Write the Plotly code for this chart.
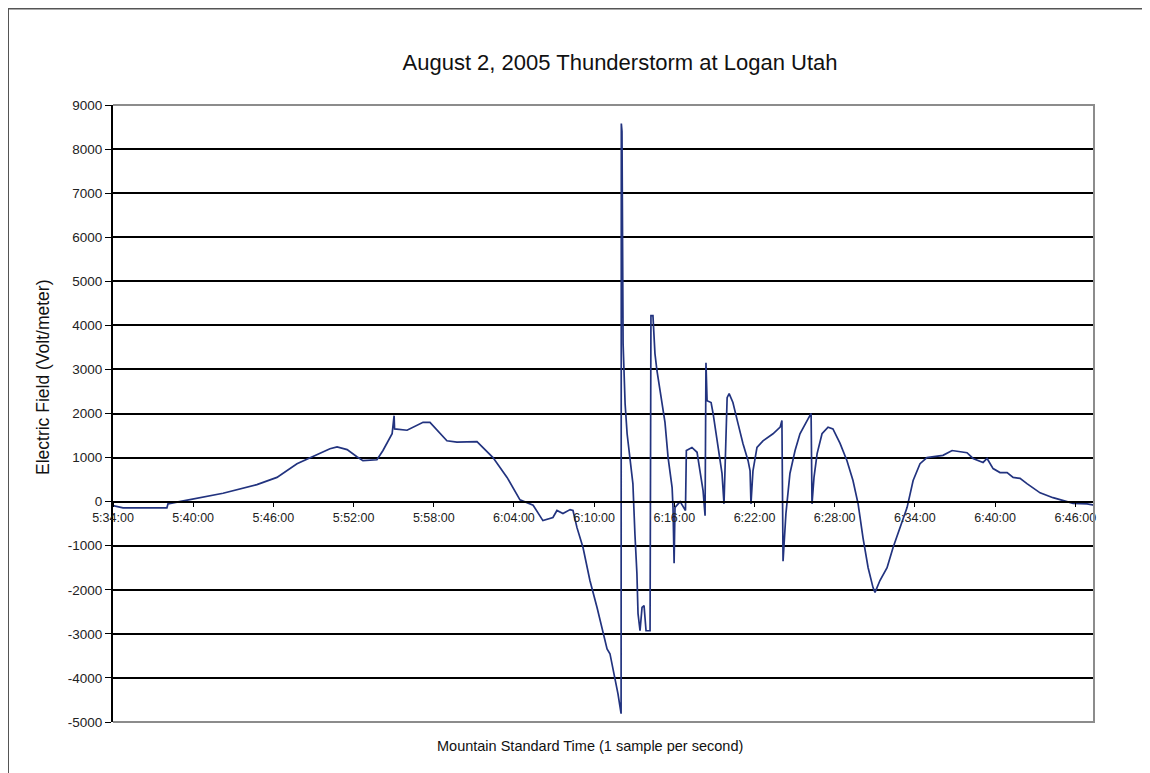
import plotly.graph_objects as go
import pandas as pd

# ---- data (Mountain Standard Time, Electric field V/m) ----
times = [
    "5:34:00", "5:34:45", "5:36:46", "5:38:02", "5:38:07", "5:39:46", "5:42:14", "5:44:46",
    "5:46:16", "5:47:46", "5:48:44", "5:50:14", "5:50:46", "5:51:31", "5:52:15", "5:52:42",
    "5:53:45", "5:54:12", "5:54:53", "5:55:02", "5:55:04", "5:56:00", "5:57:12", "5:57:43",
    "5:58:59", "5:59:44", "6:01:14", "6:02:26", "6:03:29", "6:04:27", "6:05:26", "6:06:10",
    "6:06:55", "6:07:13", "6:07:40", "6:08:12", "6:08:25", "6:08:43", "6:09:10", "6:09:41",
    "6:10:13", "6:10:40", "6:10:58", "6:11:11", "6:11:34", "6:11:47", "6:12:01", "6:12:02",
    "6:12:05", "6:12:10", "6:12:19", "6:12:28", "6:12:41", "6:12:54", "6:13:03", "6:13:12",
    "6:13:17", "6:13:26", "6:13:35", "6:13:44", "6:13:53", "6:14:11", "6:14:15", "6:14:24",
    "6:14:33", "6:14:42", "6:14:56", "6:15:09", "6:15:18", "6:15:32", "6:15:50", "6:15:54",
    "6:15:59", "6:16:03", "6:16:17", "6:16:26", "6:16:50", "6:16:54", "6:17:19", "6:17:42",
    "6:17:55", "6:18:09", "6:18:18", "6:18:22", "6:18:27", "6:18:45", "6:18:54", "6:19:12",
    "6:19:25", "6:19:34", "6:19:43", "6:19:57", "6:20:06", "6:20:23", "6:20:46", "6:21:08",
    "6:21:31", "6:21:40", "6:21:44", "6:21:53", "6:22:11", "6:22:38", "6:23:23", "6:23:55",
    "6:24:03", "6:24:08", "6:24:21", "6:24:39", "6:25:02", "6:25:24", "6:25:56", "6:26:14",
    "6:26:18", "6:26:27", "6:26:41", "6:27:03", "6:27:30", "6:27:52", "6:28:24", "6:28:55",
    "6:29:22", "6:29:45", "6:30:07", "6:30:30", "6:30:52", "6:31:01", "6:31:23", "6:31:55",
    "6:32:22", "6:32:53", "6:33:25", "6:33:52", "6:34:23", "6:34:54", "6:35:39", "6:36:06",
    "6:36:47", "6:37:54", "6:38:21", "6:39:06", "6:39:24", "6:39:51", "6:40:22", "6:40:54",
    "6:41:21", "6:41:52", "6:42:23", "6:43:22", "6:44:20", "6:45:23", "6:45:50", "6:46:53",
    "6:47:24",
]
field = [
    -90, -140, -140, -140, -50, 40, 190, 386,
    550, 860, 1000, 1200, 1240, 1180, 1020, 930,
    950, 1160, 1540, 1950, 1650, 1620, 1800, 1800,
    1380, 1350, 1360, 1000, 550, 40, -80, -430,
    -360, -200, -270, -180, -200, -590, -1040, -1790,
    -2400, -2930, -3340, -3450, -4000, -4360, -4810, 8580,
    8400, 3590, 2220, 1540, 1000, 410, -730, -1630,
    -2540, -2930, -2400, -2360, -2930, -2930, 4220, 4220,
    3360, 2970, 2520, 2060, 1800, 1000, 320, -130,
    -1400, -130, -50, 0, -200, 1160, 1230, 1120,
    700, 250, -320, 3150, 2290, 2250, 2000, 1380,
    860, 640, -50, 2360, 2450, 2250, 1770, 1320,
    930, 700, -50, 700, 1230, 1380, 1540, 1690,
    1840, -1350, -270, 640, 1160, 1540, 1840, 2000,
    -50, 550, 1090, 1540, 1690, 1650, 1320, 930,
    480, -50, -820, -1500, -1950, -2060, -1790, -1500,
    -1040, -590, -130, 480, 860, 1000, 1030, 1050,
    1160, 1110, 980, 890, 980, 750, 660, 660,
    550, 530, 410, 200, 90, 0, -40, -50,
    -80,
]
date = "2005-08-02"
x_start, x_end = "5:34:00", "6:47:24"
y_ticks = [-5000, -4000, -3000, -2000, -1000, 0, 1000, 2000, 3000, 4000, 5000, 6000, 7000, 8000, 9000]
y_tick_labels = ["-5000", "-4000", "-3000", "-2000", "-1000", "0", "1000", "2000", "3000",
                 "4000", "5000", "6000", "7000", "8000", "9000"]
tick_minutes = 6

title_text = "August 2, 2005 Thunderstorm at Logan Utah"
x_title = "Mountain Standard Time (1 sample per second)"
y_title = "Electric Field (Volt/meter)"

def ts(t):
    return pd.Timestamp(f"{date} {t}")

x_vals = [ts(t) for t in times]
y_min, y_max = min(y_ticks), max(y_ticks)

OFF = 8                      # default page margin of the html body
W, H = 1150 - OFF, 773 - OFF
L, R, T, B = 113 - OFF, 1094 - OFF, 105 - OFF, 722 - OFF   # plot-area box in figure px
pw, ph = R - L, B - T

def px(xp):  # page px -> paper
    return (xp - OFF - L) / pw

def py(yp):
    return (B - (yp - OFF)) / ph

FONT = "Liberation Sans, Arial, sans-serif"

fig = go.Figure()
fig.add_trace(go.Scatter(
    x=x_vals, y=field, mode="lines",
    line=dict(color="#22337f", width=1.7),
    showlegend=False, hoverinfo="x+y",
))

zero_pos = (0 - y_min) / (y_max - y_min)

fig.update_layout(
    width=W, height=H,
    margin=dict(l=L, r=W - R, t=T, b=H - B),
    paper_bgcolor="white", plot_bgcolor="white",
    title=dict(text=title_text, x=(620 - OFF) / W, xanchor="center",
               y=1 - (62 - OFF) / H, yanchor="middle",
               font=dict(family=FONT, size=22, color="#111111")),
    xaxis=dict(
        type="date", range=[ts(x_start), ts(x_end)],
        tick0=ts(x_start), dtick=tick_minutes * 60 * 1000, tickformat="%-H:%M:%S",
        anchor="free", position=zero_pos,
        showgrid=False, zeroline=False,
        showline=True, linecolor="black", linewidth=2,
        ticks="outside", ticklen=4, tickcolor="black", tickwidth=1,
        tickfont=dict(family=FONT, size=12.5, color="#222222"),
    ),
    yaxis=dict(
        range=[y_min, y_max], tickmode="array", tickvals=y_ticks, ticktext=y_tick_labels,
        showgrid=True, gridcolor="black", gridwidth=2,
        zeroline=False,
        showline=True, linecolor="black", linewidth=2,
        ticks="outside", ticklen=6, tickcolor="black", tickwidth=1,
        tickfont=dict(family=FONT, size=13.5, color="#222222"),
    ),
    shapes=[
        # plot-area border (grey) on top, right and bottom
        dict(type="path", xref="paper", yref="paper",
             path="M 0 1 L 1 1 L 1 0 L 0 0", line=dict(color="#8c8c8c", width=2), layer="above"),
        # outer chart frame (left and top)
        dict(type="line", xref="paper", yref="paper", x0=px(8), x1=px(8), y0=py(8), y1=py(800),
             line=dict(color="#555555", width=2)),
        dict(type="line", xref="paper", yref="paper", x0=px(8), x1=px(1200), y0=py(8.5), y1=py(8.5),
             line=dict(color="#555555", width=2)),
    ],
    annotations=[
        dict(text=x_title, xref="paper", yref="paper", x=px(590), y=py(746),
             xanchor="center", yanchor="middle", showarrow=False,
             font=dict(family=FONT, size=14.5, color="#111111")),
        dict(text=y_title, xref="paper", yref="paper", x=px(43), y=py(378), textangle=-90,
             xanchor="center", yanchor="middle", showarrow=False,
             font=dict(family=FONT, size=17.5, color="#111111")),
    ],
)

fig.write_html("out.html")
